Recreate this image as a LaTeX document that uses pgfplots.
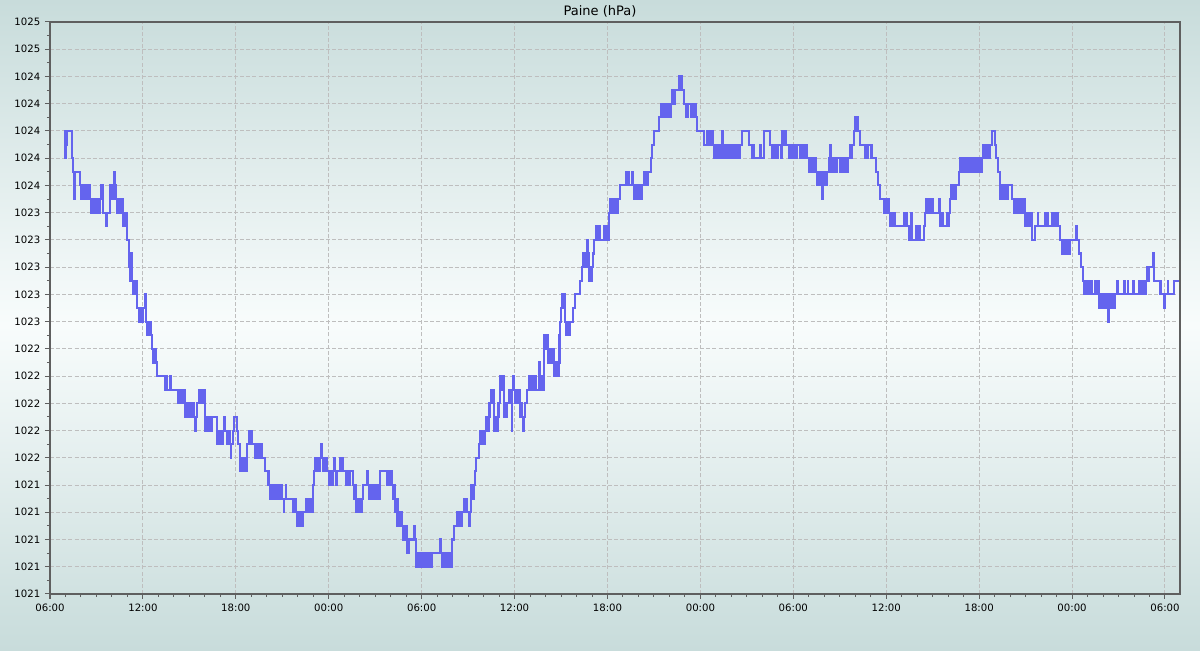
\documentclass[border=0pt]{standalone}
\usepackage{pgfplots}
\pgfplotsset{compat=1.18}
\usepackage{fontspec}
\setmainfont{DejaVu Sans}
\definecolor{bgA}{RGB}{200,220,219}
\definecolor{bgB}{RGB}{248,252,252}
\definecolor{lineC}{RGB}{100,100,238}
\definecolor{gridC}{RGB}{190,190,190}
\definecolor{axC}{RGB}{95,95,95}
\begin{document}
\begin{tikzpicture}[x=1pt,y=1pt]
\shade[top color=bgA, bottom color=bgA, middle color=bgB] (0,0) rectangle (900,487.5);
\path[use as bounding box] (0,0) rectangle (900,487.5);
\node[font=\fontsize{9.75}{11}\selectfont, text=black] at (450,479) {Paine (hPa)};
\begin{axis}[
  at={(37.5pt,42pt)}, anchor=south west,
  scale only axis, width=847.5pt, height=429pt,
  xmin=0, xmax=72.97, ymin=1020.6, ymax=1024.8,
  axis line style={draw=axC, line width=0.8pt},
  xtick={0,6,...,72},
  xticklabels={06:00,12:00,18:00,00:00,06:00,12:00,18:00,00:00,06:00,12:00,18:00,00:00,06:00},
  ytick={1020.6,1020.8,1021.0,1021.2,1021.4,1021.6,1021.8,1022.0,1022.2,1022.4,1022.6,1022.8,1023.0,1023.2,1023.4,1023.6,1023.8,1024.0,1024.2,1024.4,1024.6,1024.8},
  yticklabels={1021,1021,1021,1021,1021,1022,1022,1022,1022,1022,1023,1023,1023,1023,1023,1024,1024,1024,1024,1024,1025,1025},
  minor x tick num=5, minor y tick num=1,
  tick align=outside, xtick pos=bottom, ytick pos=left,
  major tick length=3.75pt, minor tick length=2.25pt,
  tick style={draw=axC, line width=0.75pt},
  ticklabel style={font=\fontsize{7.6}{9}\selectfont, text=black},
  /pgf/number format/assume math mode=true,
  xmajorgrids, ymajorgrids,
  major grid style={draw=gridC, line width=0.75pt, dash pattern=on 3pt off 1.6pt},
  clip=true,
]
\addplot[const plot, draw=lineC, line width=1.55pt, mark=none] coordinates {
(0.90,1024.0) (0.96,1023.8) (1.00,1024.0) (1.04,1023.9) (1.10,1024.0) (1.40,1023.8) (1.46,1023.7) (1.52,1023.6) (1.56,1023.5) (1.64,1023.7) (1.94,1023.6) (2.00,1023.5) (2.06,1023.6)
(2.12,1023.5) (2.20,1023.6) (2.28,1023.5) (2.36,1023.6) (2.44,1023.5) (2.52,1023.6) (2.60,1023.5)
(2.66,1023.4) (2.74,1023.5) (2.82,1023.4) (2.90,1023.5) (2.98,1023.4) (3.06,1023.5) (3.14,1023.4) (3.22,1023.5)
(3.27,1023.6) (3.32,1023.5) (3.38,1023.6) (3.45,1023.4) (3.62,1023.3) (3.70,1023.4)
(3.88,1023.6) (3.96,1023.5) (4.04,1023.6) (4.10,1023.5) (4.14,1023.7) (4.18,1023.6) (4.24,1023.5)
(4.31,1023.4) (4.39,1023.5) (4.47,1023.4) (4.55,1023.5) (4.63,1023.4) (4.71,1023.5)
(4.74,1023.3) (4.82,1023.4) (4.90,1023.3) (4.96,1023.4)
(5.00,1023.2) (5.08,1023.0) (5.13,1023.1) (5.20,1022.9) (5.26,1023.1) (5.32,1022.9)
(5.38,1022.8) (5.46,1022.9) (5.54,1022.8) (5.60,1022.9)
(5.64,1022.7)
(5.77,1022.6) (5.85,1022.7) (5.93,1022.6) (6.01,1022.7)
(6.14,1022.8) (6.18,1022.7) (6.20,1022.6)
(6.24,1022.5) (6.32,1022.6) (6.40,1022.5) (6.48,1022.6) (6.55,1022.5)
(6.57,1022.4) (6.68,1022.3) (6.80,1022.4) (6.86,1022.3) (6.90,1022.2)
(7.43,1022.1) (7.47,1022.2) (7.51,1022.1) (7.55,1022.2) (7.58,1022.1) (7.78,1022.2) (7.84,1022.1)
(8.29,1022.0) (8.37,1022.1) (8.45,1022.0) (8.53,1022.1) (8.61,1022.0) (8.69,1022.1)
(8.72,1021.9) (8.80,1022.0) (8.88,1021.9) (8.96,1022.0) (9.04,1021.9) (9.12,1022.0) (9.20,1021.9)
(9.24,1022.0) (9.30,1021.9) (9.36,1021.8) (9.44,1021.9) (9.52,1022.0)
(9.60,1022.1) (9.68,1022.0) (9.76,1022.1) (9.84,1022.0) (9.92,1022.1)
(9.98,1021.9) (10.04,1021.8) (10.08,1021.9)
(10.12,1021.8) (10.20,1021.9) (10.28,1021.8) (10.36,1021.9) (10.44,1021.8)
(10.45,1021.9)
(10.81,1021.7) (10.89,1021.8) (10.97,1021.7) (11.05,1021.8) (11.13,1021.7) (11.20,1021.8)
(11.22,1021.9) (11.28,1021.8)
(11.46,1021.7) (11.55,1021.8) (11.60,1021.7) (11.66,1021.6) (11.70,1021.7) (11.80,1021.8) (11.88,1021.9)
(12.06,1021.8) (12.16,1021.7) (12.26,1021.6)
(12.30,1021.5) (12.38,1021.6) (12.46,1021.5) (12.52,1021.6)
(12.66,1021.5) (12.70,1021.6)
(12.75,1021.7) (12.83,1021.8) (12.91,1021.7) (12.99,1021.8) (13.05,1021.7)
(13.25,1021.6) (13.35,1021.7) (13.46,1021.6) (13.52,1021.7) (13.58,1021.6) (13.64,1021.7)
(13.70,1021.6) (13.89,1021.5)
(14.11,1021.4) (14.19,1021.3) (14.27,1021.4) (14.35,1021.3) (14.43,1021.4) (14.51,1021.3) (14.59,1021.4) (14.67,1021.3) (14.75,1021.4) (14.83,1021.3) (14.91,1021.4)
(14.97,1021.3) (15.10,1021.2) (15.14,1021.3) (15.22,1021.4) (15.26,1021.3)
(15.72,1021.2) (15.80,1021.3) (15.88,1021.2)
(15.96,1021.1) (16.04,1021.2) (16.12,1021.1) (16.20,1021.2) (16.28,1021.1) (16.36,1021.2)
(16.55,1021.3) (16.63,1021.2) (16.71,1021.3) (16.79,1021.2) (16.87,1021.3) (16.95,1021.2)
(16.97,1021.4) (17.06,1021.5)
(17.12,1021.6) (17.20,1021.5) (17.28,1021.6) (17.36,1021.5) (17.44,1021.6)
(17.50,1021.7) (17.56,1021.6)
(17.62,1021.5) (17.70,1021.6) (17.78,1021.5) (17.84,1021.6)
(17.87,1021.5)
(18.04,1021.4) (18.12,1021.5) (18.20,1021.4)
(18.26,1021.5) (18.37,1021.6) (18.41,1021.5) (18.50,1021.4) (18.54,1021.5)
(18.73,1021.6) (18.81,1021.5) (18.87,1021.6)
(18.91,1021.5) (19.10,1021.4) (19.14,1021.5) (19.24,1021.4) (19.30,1021.5) (19.34,1021.4) (19.38,1021.5)
(19.55,1021.4)
(19.62,1021.3) (19.70,1021.4)
(19.77,1021.2) (19.85,1021.3) (19.93,1021.2) (20.00,1021.3)
(20.12,1021.2) (20.16,1021.3) (20.24,1021.4) (20.50,1021.5) (20.54,1021.4)
(20.58,1021.3) (20.66,1021.4) (20.74,1021.3) (20.82,1021.4) (20.90,1021.3) (20.98,1021.4) (21.06,1021.3) (21.14,1021.4) (21.22,1021.3) (21.30,1021.4)
(21.32,1021.5)
(21.79,1021.4) (21.87,1021.5) (21.95,1021.4) (22.03,1021.5)
(22.07,1021.4)
(22.15,1021.3) (22.23,1021.4)
(22.29,1021.2) (22.37,1021.3)
(22.44,1021.1) (22.52,1021.2) (22.60,1021.1) (22.68,1021.2) (22.76,1021.1)
(22.78,1021.0) (22.86,1021.1) (22.94,1021.0) (23.02,1021.1)
(23.08,1020.9) (23.16,1021.0)
(23.50,1021.1) (23.56,1021.0)
(23.62,1020.9)
(23.64,1020.8) (23.72,1020.9) (23.80,1020.8) (23.88,1020.9) (23.96,1020.8) (24.04,1020.9) (24.12,1020.8) (24.20,1020.9) (24.28,1020.8) (24.36,1020.9) (24.44,1020.8) (24.52,1020.9) (24.60,1020.8) (24.68,1020.9)
(24.76,1020.9) (25.20,1021.0) (25.26,1020.9)
(25.30,1020.8) (25.38,1020.9) (25.46,1020.8) (25.54,1020.9) (25.62,1020.8) (25.70,1020.9) (25.78,1020.8) (25.86,1020.9) (25.92,1020.8)
(25.95,1021.0) (26.10,1021.1)
(26.27,1021.2) (26.35,1021.1) (26.43,1021.2) (26.51,1021.1)
(26.59,1021.2)
(26.74,1021.3) (26.82,1021.2) (26.88,1021.3)
(26.92,1021.2) (27.04,1021.1) (27.10,1021.2) (27.17,1021.3)
(27.20,1021.4) (27.28,1021.3) (27.36,1021.4)
(27.45,1021.5) (27.52,1021.6)
(27.73,1021.7)
(27.80,1021.8) (27.88,1021.7) (27.96,1021.8) (28.04,1021.7) (28.12,1021.8)
(28.17,1021.9) (28.25,1021.8) (28.33,1021.9)
(28.38,1022.0) (28.50,1022.1) (28.56,1022.0) (28.62,1022.1)
(28.68,1021.8) (28.76,1021.9) (28.84,1021.8) (28.92,1021.9)
(28.96,1022.0)
(29.07,1022.2) (29.15,1022.1) (29.23,1022.2)
(29.29,1022.0)
(29.33,1021.9) (29.41,1022.0) (29.49,1021.9)
(29.54,1022.0) (29.67,1022.1) (29.82,1021.8) (29.86,1022.1) (29.93,1022.2) (29.98,1022.1)
(30.04,1022.0) (30.12,1022.1) (30.20,1022.0) (30.28,1022.1)
(30.32,1021.9) (30.40,1022.0) (30.48,1021.9)
(30.53,1021.8) (30.60,1021.9) (30.70,1022.0)
(30.79,1022.1)
(30.96,1022.2) (31.04,1022.1) (31.12,1022.2) (31.20,1022.1) (31.28,1022.2) (31.36,1022.1)
(31.55,1022.3) (31.63,1022.2)
(31.70,1022.1) (31.78,1022.2) (31.86,1022.1)
(31.91,1022.5) (31.99,1022.4) (32.07,1022.5) (32.15,1022.4)
(32.19,1022.3) (32.27,1022.4) (32.35,1022.3) (32.43,1022.4)
(32.52,1022.2) (32.60,1022.3) (32.68,1022.2) (32.76,1022.3) (32.82,1022.2)
(32.84,1022.3) (32.90,1022.5) (32.95,1022.6) (32.99,1022.7)
(33.05,1022.8) (33.13,1022.7) (33.21,1022.8)
(33.27,1022.6)
(33.33,1022.5) (33.41,1022.6) (33.49,1022.5) (33.55,1022.6)
(33.76,1022.7) (33.92,1022.8) (34.24,1022.9)
(34.35,1023.0) (34.43,1023.1) (34.51,1023.0) (34.59,1023.1) (34.66,1023.0)
(34.70,1023.2) (34.74,1023.1)
(34.78,1022.9) (34.86,1023.0) (34.94,1022.9)
(34.99,1023.0)
(35.06,1023.1) (35.14,1023.2)
(35.27,1023.3) (35.35,1023.2) (35.43,1023.3) (35.51,1023.2)
(35.79,1023.3) (35.87,1023.2) (35.95,1023.3) (36.03,1023.2)
(36.07,1023.4)
(36.18,1023.5) (36.26,1023.4) (36.34,1023.5) (36.42,1023.4) (36.50,1023.5) (36.58,1023.4)
(36.65,1023.5) (36.78,1023.6)
(37.21,1023.7) (37.26,1023.6) (37.32,1023.7) (37.38,1023.6)
(37.58,1023.7) (37.64,1023.6)
(37.73,1023.5) (37.81,1023.6) (37.89,1023.5) (37.97,1023.6) (38.05,1023.5) (38.13,1023.6) (38.20,1023.5)
(38.22,1023.6) (38.33,1023.7)
(38.36,1023.6) (38.44,1023.7) (38.52,1023.6) (38.60,1023.7)
(38.81,1023.8) (38.87,1023.9) (39.02,1024.0) (39.32,1024.1)
(39.47,1024.2) (39.55,1024.1) (39.63,1024.2) (39.71,1024.1)
(39.80,1024.2) (39.88,1024.1) (39.96,1024.2) (40.04,1024.1) (40.12,1024.2)
(40.18,1024.3) (40.26,1024.2) (40.34,1024.3)
(40.59,1024.4) (40.67,1024.3) (40.75,1024.4)
(40.81,1024.3) (40.92,1024.2) (41.09,1024.1) (41.17,1024.2)
(41.39,1024.1) (41.47,1024.2) (41.55,1024.1) (41.63,1024.2) (41.71,1024.1)
(41.78,1024.0) (42.21,1023.9)
(42.42,1024.0) (42.50,1023.9) (42.58,1024.0) (42.66,1023.9) (42.74,1024.0) (42.82,1023.9)
(42.85,1023.8) (42.93,1023.9) (43.01,1023.8) (43.09,1023.9) (43.17,1023.8) (43.25,1023.9) (43.33,1023.8)
(43.39,1024.0)
(43.46,1023.8) (43.54,1023.9) (43.62,1023.8) (43.70,1023.9) (43.78,1023.8) (43.86,1023.9) (43.94,1023.8) (44.02,1023.9) (44.10,1023.8) (44.18,1023.9) (44.26,1023.8) (44.34,1023.9)
(44.50,1023.8) (44.56,1023.9)
(44.68,1024.0) (45.11,1023.9)
(45.33,1023.8) (45.39,1023.9)
(45.44,1023.8)
(45.87,1023.9) (45.93,1023.8)
(46.08,1024.0) (46.47,1023.9)
(46.62,1023.8) (46.70,1023.9) (46.78,1023.8) (46.86,1023.9) (46.94,1023.8) (47.02,1023.9)
(47.20,1023.8) (47.24,1023.9)
(47.27,1024.0) (47.35,1023.9) (47.43,1024.0) (47.51,1023.9)
(47.70,1023.8) (47.78,1023.9) (47.86,1023.8) (47.94,1023.9) (48.02,1023.8) (48.10,1023.9) (48.18,1023.8)
(48.24,1023.9)
(48.41,1023.8) (48.49,1023.9) (48.57,1023.8) (48.65,1023.9) (48.73,1023.8) (48.81,1023.9)
(48.88,1023.8) (48.99,1023.7)
(49.14,1023.8) (49.22,1023.7) (49.30,1023.8) (49.38,1023.7) (49.46,1023.8)
(49.49,1023.7)
(49.53,1023.6) (49.61,1023.7) (49.69,1023.6) (49.77,1023.7)
(49.85,1023.5) (49.92,1023.7)
(49.96,1023.6) (50.04,1023.7) (50.12,1023.6) (50.20,1023.7)
(50.28,1023.8) (50.36,1023.9) (50.42,1023.8)
(50.44,1023.7) (50.52,1023.8) (50.60,1023.7) (50.68,1023.8) (50.76,1023.7) (50.84,1023.8)
(50.93,1023.8)
(51.00,1023.7) (51.08,1023.8) (51.16,1023.7) (51.24,1023.8) (51.32,1023.7) (51.40,1023.8) (51.48,1023.7) (51.56,1023.8)
(51.64,1023.9) (51.72,1023.8) (51.80,1023.9)
(51.90,1024.0)
(51.96,1024.1) (52.04,1024.0) (52.12,1024.1) (52.20,1024.0)
(52.29,1023.9)
(52.65,1023.8) (52.71,1023.9) (52.78,1023.8) (52.85,1023.9)
(53.05,1023.8)
(53.36,1023.7) (53.45,1023.6) (53.58,1023.5)
(53.84,1023.4) (53.92,1023.5) (54.00,1023.4) (54.08,1023.5)
(54.16,1023.4)
(54.27,1023.3) (54.35,1023.4) (54.43,1023.3) (54.51,1023.4) (54.59,1023.3)
(54.70,1023.3)
(55.13,1023.4) (55.21,1023.3) (55.29,1023.4)
(55.34,1023.3) (55.45,1023.2) (55.60,1023.4) (55.67,1023.2)
(55.95,1023.3) (56.03,1023.2) (56.11,1023.3)
(56.16,1023.2) (56.42,1023.3) (56.53,1023.4)
(56.60,1023.5) (56.68,1023.4) (56.76,1023.5) (56.84,1023.4) (56.92,1023.5)
(57.02,1023.4) (57.39,1023.5) (57.45,1023.4)
(57.48,1023.3) (57.56,1023.4) (57.64,1023.3)
(57.71,1023.3) (57.95,1023.4) (57.99,1023.3)
(58.04,1023.4) (58.14,1023.5)
(58.20,1023.6) (58.28,1023.5) (58.36,1023.6) (58.44,1023.5) (58.52,1023.6)
(58.57,1023.6) (58.68,1023.7)
(58.79,1023.8) (58.87,1023.7) (58.95,1023.8) (59.03,1023.7) (59.11,1023.8) (59.19,1023.7)
(59.30,1023.8) (59.34,1023.7) (59.45,1023.8) (59.49,1023.7)
(59.54,1023.8) (59.62,1023.7) (59.70,1023.8) (59.78,1023.7) (59.86,1023.8) (59.94,1023.7) (60.02,1023.8) (60.10,1023.7) (60.18,1023.8)
(60.25,1023.9) (60.33,1023.8) (60.41,1023.9) (60.49,1023.8) (60.57,1023.9) (60.65,1023.8)
(60.68,1023.9) (60.84,1024.0) (61.05,1023.9) (61.10,1023.8) (61.20,1023.7) (61.33,1023.6)
(61.37,1023.5) (61.43,1023.6)
(61.56,1023.5) (61.62,1023.6) (61.68,1023.5) (61.72,1023.6)
(61.85,1023.5) (61.89,1023.6)
(62.12,1023.5)
(62.23,1023.4) (62.31,1023.5) (62.39,1023.4) (62.47,1023.5) (62.55,1023.4) (62.63,1023.5) (62.71,1023.4) (62.79,1023.5) (62.87,1023.4) (62.95,1023.5)
(62.99,1023.3) (63.07,1023.4) (63.15,1023.3) (63.23,1023.4) (63.31,1023.3) (63.39,1023.4)
(63.41,1023.2) (63.58,1023.3) (63.78,1023.4) (63.82,1023.3)
(64.28,1023.4) (64.34,1023.3) (64.42,1023.4) (64.47,1023.3)
(64.71,1023.4) (64.79,1023.3) (64.87,1023.4) (64.95,1023.3) (65.03,1023.4) (65.11,1023.3)
(65.25,1023.2)
(65.35,1023.1) (65.43,1023.2) (65.51,1023.1) (65.59,1023.2) (65.67,1023.1) (65.75,1023.2) (65.83,1023.1)
(65.89,1023.2) (66.24,1023.3) (66.30,1023.2)
(66.45,1023.1) (66.58,1023.0) (66.71,1022.9)
(66.80,1022.8) (66.88,1022.9) (66.96,1022.8) (67.04,1022.9) (67.12,1022.8) (67.20,1022.9) (67.28,1022.8)
(67.51,1022.9) (67.59,1022.8) (67.67,1022.9)
(67.72,1022.7) (67.80,1022.8) (67.88,1022.7) (67.96,1022.8) (68.04,1022.7) (68.12,1022.8) (68.20,1022.7) (68.28,1022.8)
(68.34,1022.6) (68.40,1022.8)
(68.44,1022.7) (68.52,1022.8) (68.60,1022.7) (68.68,1022.8) (68.76,1022.7)
(68.80,1022.8) (68.91,1022.9) (68.95,1022.8)
(69.38,1022.9) (69.42,1022.8) (69.60,1022.9) (69.64,1022.8)
(69.92,1022.9) (69.98,1022.8)
(70.31,1022.9) (70.38,1022.8) (70.45,1022.9) (70.52,1022.8) (70.58,1022.9)
(70.74,1022.8) (70.78,1022.9)
(70.84,1023.0) (70.90,1022.9) (70.96,1023.0)
(71.20,1023.1) (71.26,1023.0)
(71.28,1022.9)
(71.71,1022.8) (71.96,1022.7) (72.00,1022.8)
(72.18,1022.9) (72.22,1022.8)
(72.57,1022.9) (72.89,1022.9)
};
\end{axis}
\end{tikzpicture}
\end{document}
